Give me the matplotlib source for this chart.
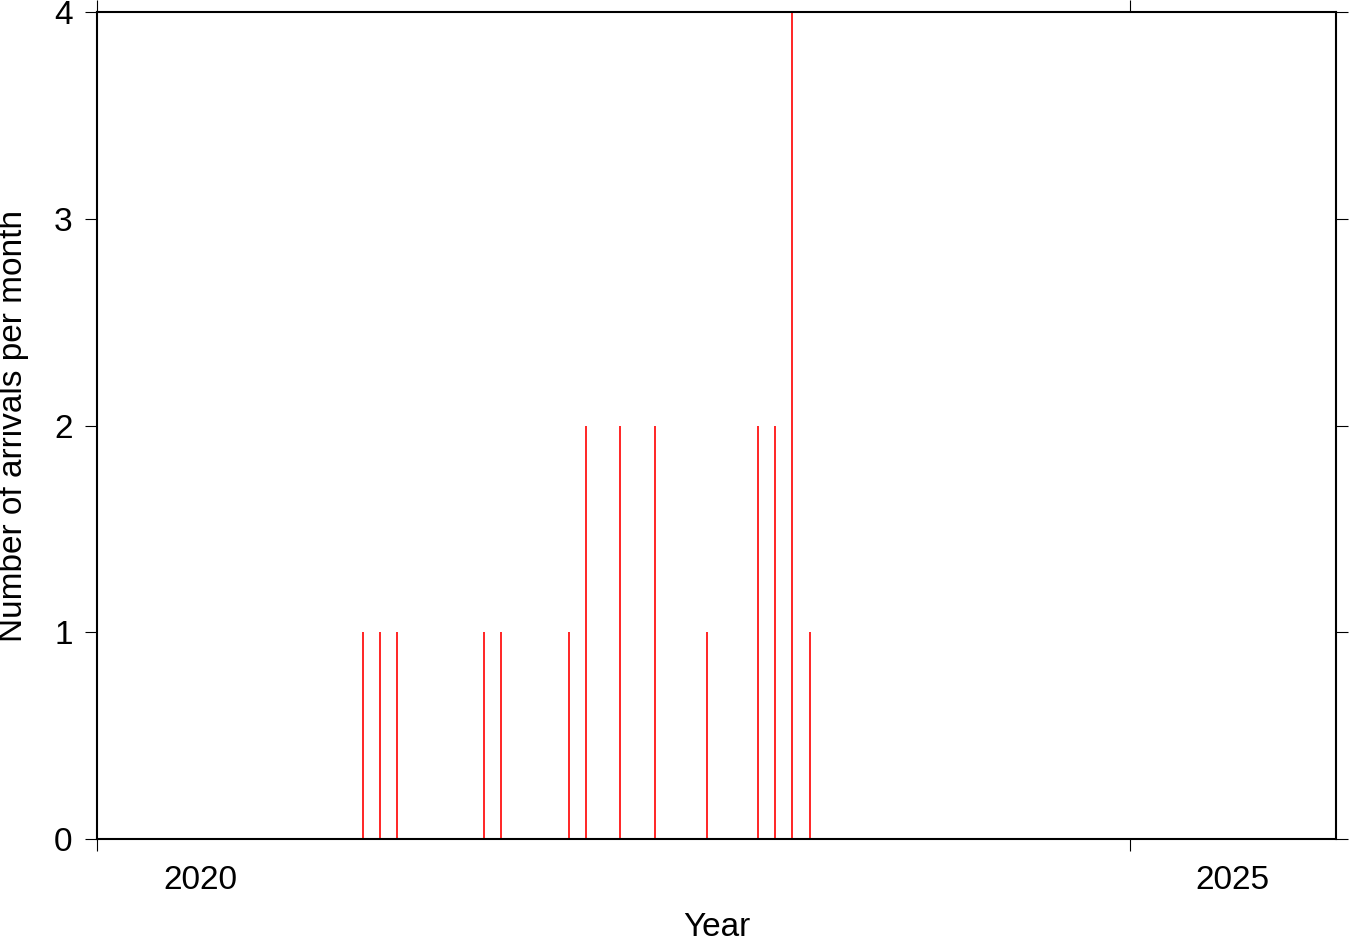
import matplotlib
matplotlib.use('Agg')
import matplotlib.pyplot as plt
import matplotlib.dates as mdates
import pandas as pd

plt.rcParams['font.family'] = ['Liberation Sans', 'DejaVu Sans']

# monthly arrival counts (months with zero arrivals omitted)
months = ['2021-04', '2021-05', '2021-06', '2021-11', '2021-12',
          '2022-04', '2022-05', '2022-07', '2022-09', '2022-12',
          '2023-03', '2023-04', '2023-05', '2023-06']
counts = [1, 1, 1, 1, 1, 1, 2, 2, 2, 1, 2, 2, 4, 1]

year_ticks = ['2020', '2025']
x_start = '2020-01-01'
x_end = '2026-01-01'
y_ticks = [0, 1, 2, 3, 4]

# bars sit in the middle of each month
mid = pd.to_datetime(months) + pd.Timedelta(days=14)

fig = plt.figure(figsize=(13.5, 9.42), dpi=100)
W, H = 1350, 942
ax = fig.add_axes([97 / W, (H - 839) / H, (1336 - 97) / W, (839 - 12) / H])

ax.vlines(mdates.date2num(mid), 0, counts, color='red', linewidth=1.2)

ax.set_xlim(mdates.datestr2num(x_start), mdates.datestr2num(x_end))
ax.set_ylim(0, 4)

# major ticks at year start, labels centered on the year interval
ax.set_xticks([mdates.datestr2num(y + '-01-01') for y in year_ticks])
ax.set_xticklabels([])
ax.set_xticks([mdates.datestr2num(y + '-07-02') for y in year_ticks],
              minor=True)
ax.set_xticklabels(year_ticks, minor=True)
ax.tick_params(axis='x', which='major', direction='out', length=8.6,
               width=0.8, top=True, bottom=True)
ax.tick_params(axis='x', which='minor', length=0, pad=18.5, labelsize=24)

ax.set_yticks(y_ticks)
ax.set_yticklabels([str(v) for v in y_ticks])
ax.tick_params(axis='y', direction='out', length=8.6, width=0.8,
               left=True, right=True, labelsize=24, pad=9)

for s in ax.spines.values():
    s.set_linewidth(1.5)

ax.set_xlabel('Year', fontsize=24)
ax.xaxis.set_label_coords(0.5, -0.0885)
ax.set_ylabel('Number of arrivals per month', fontsize=24)
ax.yaxis.set_label_coords(-0.0548, 0.5)

fig.savefig('out.png', dpi=100)
